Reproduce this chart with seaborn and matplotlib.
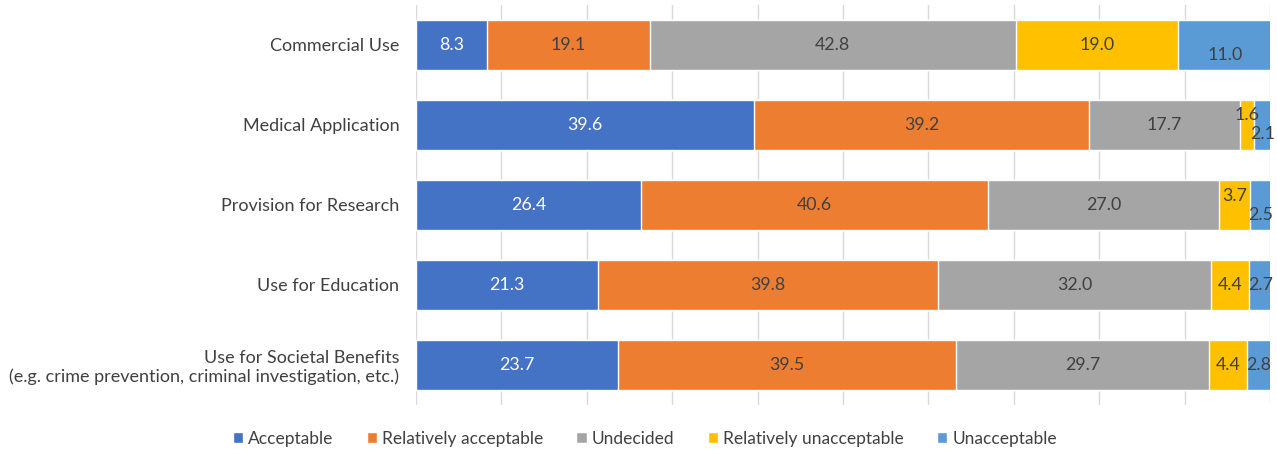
import numpy as np
import pandas as pd
import matplotlib.pyplot as plt
import seaborn as sns
from matplotlib.patches import Patch

# data (percent)
categories = ['Commercial Use', 'Medical Application', 'Provision for Research',
              'Use for Education',
              'Use for Societal Benefits\n(e.g. crime prevention, criminal investigation, etc.)']
series = ['Acceptable', 'Relatively acceptable', 'Undecided',
          'Relatively unacceptable', 'Unacceptable']
acceptable = [8.3, 39.6, 26.4, 21.3, 23.7]
rel_acceptable = [19.1, 39.2, 40.6, 39.8, 39.5]
undecided = [42.8, 17.7, 27.0, 32.0, 29.7]
rel_unacceptable = [19.0, 1.6, 3.7, 4.4, 4.4]
unacceptable = [11.0, 2.1, 2.5, 2.7, 2.8]

colors = ['#4472C4', '#ED7D31', '#A5A5A5', '#FFC000', '#5B9BD5']
text_colors = ['white', '#404040', '#404040', '#404040', '#404040']

sns.set_style('white')
plt.rcParams['font.family'] = ['Lato', 'DejaVu Sans']

df = pd.DataFrame({'category': categories})
vals = [acceptable, rel_acceptable, undecided, rel_unacceptable, unacceptable]
for s, v in zip(series, vals):
    df[s] = v
cum = df[series].cumsum(axis=1)

fig = plt.figure(figsize=(12.77, 4.54), dpi=100)
ax = fig.add_axes([0.3258, 0.108, 0.6687, 0.881])

ax.set_axisbelow(True)
for x in range(0, 101, 10):
    ax.axvline(x, color='#D9D9D9', lw=1, zorder=0)

# stacked bars: draw the cumulative totals from right to left
for i in range(len(series) - 1, -1, -1):
    sns.barplot(x=cum[series[i]], y=df['category'], color=colors[i],
                orient='h', width=0.625, saturation=1, ax=ax, zorder=2)

# label offsets (in category units) where Excel nudged overlapping labels
dy = {(1, 3): -0.12, (1, 4): 0.11, (2, 3): -0.11, (2, 4): 0.12, (0, 4): 0.12}
for r in range(len(categories)):
    for i, s in enumerate(series):
        v = df.loc[r, s]
        xc = cum.loc[r, s] - v / 2
        ax.text(xc, r + dy.get((r, i), 0), f'{v:.1f}', ha='center', va='center',
                color=text_colors[i], fontsize=12.8, zorder=3)

ax.set_xlim(0, 100)
ax.set_ylim(4.5, -0.5)
ax.set_xlabel('')
ax.set_ylabel('')
ax.set_xticks([])
ax.tick_params(axis='y', length=0, pad=12, labelsize=13.0, labelcolor='#404040')
for sp in ax.spines.values():
    sp.set_visible(False)

handles = [Patch(facecolor=c, label=s) for c, s in zip(colors, series)]
fig.legend(handles=handles, loc='center', bbox_to_anchor=(0.505, 0.033), ncol=5,
           frameon=False, fontsize=12.5, handlelength=0.6, handleheight=0.6,
           handletextpad=0.3, columnspacing=1.9, labelcolor='#404040')

fig.savefig('out.png', dpi=100)
